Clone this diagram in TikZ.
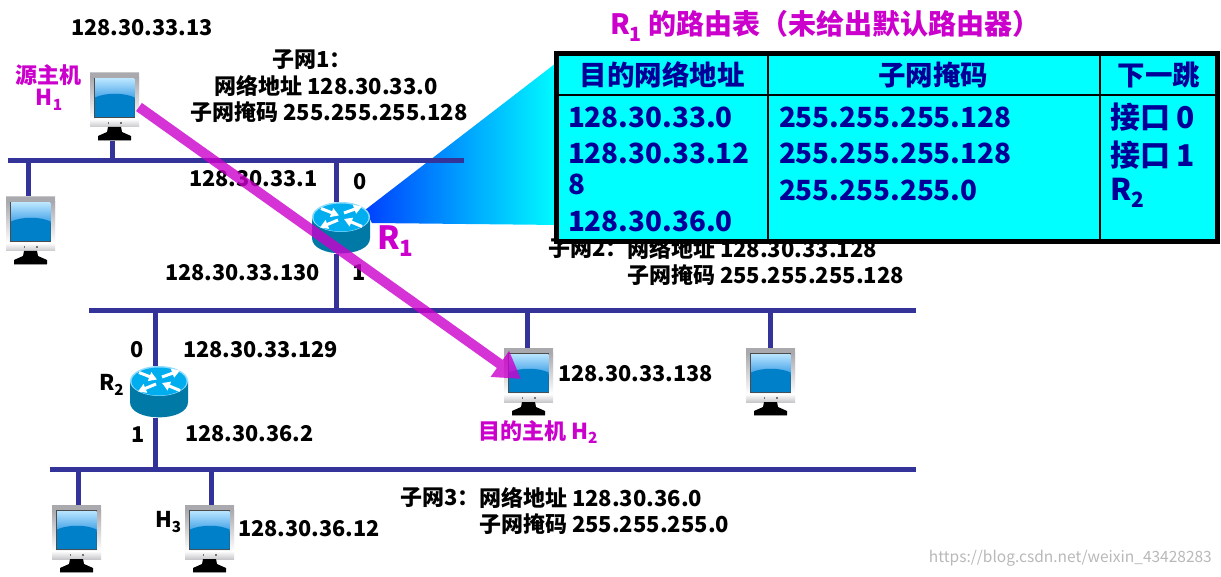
\documentclass[tikz,border=0pt]{standalone}
\usepackage{fontspec}
\setmainfont{Noto Sans CJK SC}
\usetikzlibrary{arrows.meta,calc}
\definecolor{busc}{HTML}{333399}
\definecolor{magc}{HTML}{CC00CC}
\definecolor{tblc}{HTML}{000099}
\definecolor{cyanc}{HTML}{00FFFF}
\definecolor{fanl}{HTML}{0040FF}
\definecolor{framec}{HTML}{A9A9AE}
\definecolor{silverc}{HTML}{C8C8CC}
\definecolor{scrtop}{HTML}{B8E4FF}
\definecolor{scrmid}{HTML}{3FA0E6}
\definecolor{scrlow}{HTML}{0080C8}
\definecolor{rtop}{HTML}{00AEEF}
\definecolor{redge}{HTML}{8FDCFF}
\definecolor{rbody}{HTML}{0079A6}
\newcommand{\subs}[1]{\raisebox{-0.22em}{\scalebox{0.7}{#1}}}
\tikzset{
 x=1pt,y=-1pt,
 lbl/.style={inner sep=0,outer sep=0,anchor=west,font=\fontsize{21.7}{26}\selectfont\bfseries,text=black},
 lblc/.style={lbl,font=\fontsize{22}{26}\selectfont\bfseries},
 magl/.style={lblc,text=magc},
 tbl/.style={lbl,text=tblc,font=\fontsize{27.8}{34}\selectfont\bfseries},
 tblz/.style={lbl,text=tblc,font=\fontsize{30}{34}\selectfont\bfseries},
 bus/.style={draw=busc,line width=5pt},
 tap/.style={draw=busc,line width=5pt},
 monbox/.style={inner sep=0,outer sep=0,minimum width=49pt,minimum height=68pt},
 routerbox/.style={inner sep=0,outer sep=0,minimum width=58pt,minimum height=52pt},
 monitorpic/.pic={
   \shade[top color=silverc,bottom color=white] (0,0) rectangle (49,54);
   \fill[framec] (0,0) rectangle (49,5);
   \shade[top color=framec,bottom color=white] (0,5) rectangle (4.5,46);
   \shade[top color=framec,bottom color=white] (45,5) rectangle (49,46);
   \shade[top color=white,bottom color=silverc] (0,46) rectangle (49,54);
   \fill[black!70] (4.3,5.2) rectangle (45.2,44.6);
   \shade[top color=scrtop,bottom color=scrmid] (5,6) rectangle (44.7,26);
   \fill[scrlow] (5,24.5) .. controls (16,19.5) and (34,19.5) .. (44.7,24.5) -- (44.7,44) -- (5,44) -- cycle;
   \fill[black] (18,54) -- (31,54) -- (32,59) -- (41,63) -- (41,67) -- (8,67) -- (8,63) -- (17,59) -- cycle;
   \fill[black!40] (8,67) rectangle (41,68);
   \fill[black!55] (17.5,49) rectangle (19,51);
   \fill[black!55] (30,49) rectangle (31.5,51);
 },
 routerpic/.pic={
   \fill[rbody] (0,15) -- (0,36) .. controls (0,56.5) and (58,56.5) .. (58,36) -- (58,15) -- cycle;
   \fill[redge] (29,15) ellipse [x radius=29,y radius=15];
   \fill[rtop] (29,15.5) ellipse [x radius=27.5,y radius=14];
   \draw[white,line width=3pt,-{Triangle[length=8pt,width=9pt]}] (9,6.5) -- (27,13.5);
   \draw[white,line width=3pt,-{Triangle[length=8pt,width=9pt]}] (32,11) -- (50,4.5);
   \draw[white,line width=3pt,-{Triangle[length=8pt,width=9pt]}] (50,24.5) -- (32,17);
   \draw[white,line width=3pt,-{Triangle[length=8pt,width=9pt]}] (26,18) -- (8,25.5);
 }
}
\begin{document}
\begin{tikzpicture}
\useasboundingbox (0,0) rectangle (1221,577);
% fan
\shade[left color=fanl,right color=cyanc] (365,210) -- (560,60) -- (560,225) -- (372,223) -- cycle;
% coordinates on the buses
\coordinate (b1l) at (8,160.5); \coordinate (b1r) at (464,160.5);
\coordinate (b2l) at (89,310.5); \coordinate (b2r) at (916,310.5);
\coordinate (b3l) at (50,469.5); \coordinate (b3r) at (916,469.5);
% devices
\node[monbox] (h1) at (114.5,107) {};
\node[monbox] (pc1) at (30.5,231) {};
\node[monbox] (h2) at (528.5,382) {};
\node[monbox] (pc2) at (770.5,382) {};
\node[monbox] (pc3) at (76.5,539) {};
\node[monbox] (h3) at (209.5,539) {};
\node[routerbox] (r1) at (341,228) {};
\node[routerbox] (r2) at (159,392) {};
% links
\coordinate (t1) at (112,160); \coordinate (t2) at (28,160); \coordinate (t3) at (336,160);
\coordinate (t4) at (336,310); \coordinate (t5) at (155,310); \coordinate (t6) at (527,310); \coordinate (t7) at (770,310);
\coordinate (t8) at (155,469); \coordinate (t9) at (78,469); \coordinate (t10) at (211,469);
\draw[tap] (t1) -- (t1 |- h1.south);
\draw[tap] (t2) -- (t2 |- pc1.north);
\draw[tap] (t3) -- (t3 |- r1.north);
\draw[tap] (t4) -- (t4 |- r1.south);
\draw[tap] (t5) -- (t5 |- r2.north);
\draw[tap] (t6) -- (t6 |- h2.north);
\draw[tap] (t7) -- (t7 |- pc2.north);
\draw[tap] (t8) -- (t8 |- r2.south);
\draw[tap] (t9) -- (t9 |- pc3.north);
\draw[tap] (t10) -- (t10 |- h3.north);
\draw[bus] (b1l) -- (b1r);
\draw[bus] (b2l) -- (b2r);
\draw[bus] (b3l) -- (b3r);
\pic at (h1.north west) {monitorpic};
\pic at (pc1.north west) {monitorpic};
\pic at (h2.north west) {monitorpic};
\pic at (pc2.north west) {monitorpic};
\pic at (pc3.north west) {monitorpic};
\pic at (h3.north west) {monitorpic};
\pic at (r1.north west) {routerpic};
\pic at (r2.north west) {routerpic};
% labels
\node[lbl] (a1) at (71,28) {128.30.33.13};
\node[lblc,anchor=center] (s1a) at (312,60) {子网1：};
\node[lblc,anchor=center] (s1b) at (326,86) {网络地址 128.30.33.0};
\node[lblc,anchor=center] (s1c) at (329,112) {子网掩码 255.255.255.128};
\node[magl,anchor=center] (srcA) at (49,75) {源主机};
\node[magl,anchor=center] (srcB) at (49,100) {H\subs{1}};
\node[lbl] (a2) at (189,179) {128.30.33.1};
\node[lbl] (n0) at (353,182) {0};
\node[lbl] (a3) at (165,273) {128.30.33.130};
\node[lbl] (n1) at (352,273) {1};
\node[magl,font=\fontsize{32}{36}\selectfont\bfseries] (r1l) at (377,241) {R\subs{1}};
\node[lblc] (s2a) at (548,249) {子网2：};
\node[lblc] (s2b) at (627,249) {网络地址 128.30.33.128};
\node[lblc] (s2c) at (627,275) {子网掩码 255.255.255.128};
\node[lbl] (n2) at (130,350) {0};
\node[lbl] (a4) at (183,350) {128.30.33.129};
\node[lbl] (r2l) at (99,385) {R\subs{2}};
\node[lbl] (n3) at (131,435) {1};
\node[lbl] (a5) at (185,434) {128.30.36.2};
\node[lbl] (a6) at (558,374) {128.30.33.138};
\node[magl] (dst) at (478,432) {目的主机 H\subs{2}};
\node[lblc] (s3a) at (400,498) {子网3：};
\node[lblc] (s3b) at (479,498) {网络地址 128.30.36.0};
\node[lblc] (s3c) at (479,524) {子网掩码 255.255.255.0};
\node[lbl] (h3l) at (155,522) {H\subs{3}};
\node[lbl] (a7) at (238,529) {128.30.36.12};
\node[inner sep=0,anchor=east,text=black!28,font=\fontsize{15.5}{18}\selectfont] (wm) at (1212,558) {https://blog.csdn.net/weixin\_43428283};
% route arrow
\coordinate (tip) at (521,379);
\begin{scope}[transparency group,opacity=.8]
\draw[draw=magc,fill=magc,line width=10pt,-{Triangle[length=26pt,width=30pt]}] (h1.east) -- (tip);
\end{scope}
% table
\node[magl,font=\fontsize{28}{32}\selectfont\bfseries] (title) at (610,26) {R\subs{1} 的路由表（未给出默认路由器）};
\node[draw=black,fill=cyanc,line width=5pt,inner sep=0,outer sep=0,minimum width=661pt,minimum height=188pt] (tab) at (887,147.5) {};
\coordinate (c1) at (768,52); \coordinate (c2) at (1100,52); \coordinate (hl) at (555,95);
\draw[black,line width=2.5pt] (c1) -- (c1 |- tab.south);
\draw[black,line width=2.5pt] (c2) -- (c2 |- tab.south);
\draw[black,line width=2.5pt] (hl) -- (hl -| tab.east);
\node[tbl,anchor=center,font=\fontsize{27.5}{32}\selectfont\bfseries] (th1) at (662,75) {目的网络地址};
\node[tbl,anchor=center,font=\fontsize{27.5}{32}\selectfont\bfseries] (th2) at (933,75) {子网掩码};
\node[tbl,anchor=center,font=\fontsize{27.5}{32}\selectfont\bfseries] (th3) at (1159,75) {下一跳};
\node[tbl] (d1) at (568,117) {128.30.33.0};
\node[tbl] (d2) at (568,153) {128.30.33.12};
\node[tbl] (d2b) at (568,184) {8};
\node[tbl] (d3) at (568,221) {128.30.36.0};
\node[tbl] (m1) at (779,117) {255.255.255.128};
\node[tbl] (m2) at (779,153) {255.255.255.128};
\node[tbl] (m3) at (779,190) {255.255.255.0};
\node[tblz] (x1) at (1110,117) {接口 0};
\node[tblz] (x2) at (1110,155) {接口 1};
\node[tblz] (x3) at (1110,193) {R\subs{2}};
\end{tikzpicture}
\end{document}
